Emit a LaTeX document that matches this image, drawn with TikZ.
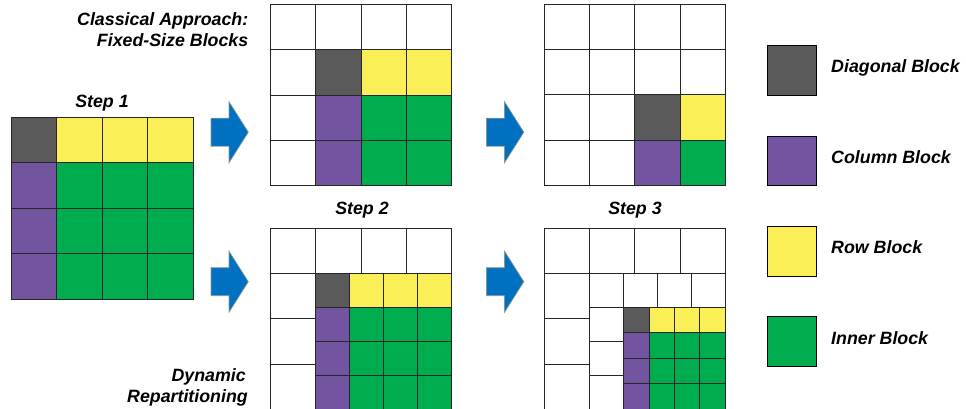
\documentclass[tikz,border=0pt]{standalone}
\usepackage{fontspec}
\setmainfont{Liberation Sans}
\definecolor{diagc}{HTML}{5A5A5A}
\definecolor{colc}{HTML}{7254A0}
\definecolor{rowc}{HTML}{FBEF58}
\definecolor{innc}{HTML}{00AD4E}
\definecolor{arrowc}{HTML}{0070C0}
\definecolor{arrowedge}{HTML}{8C9690}

% W = white cell, D = diagonal, C = column, R = row, I = inner
\colorlet{W}{white}
\colorlet{D}{diagc}
\colorlet{C}{colc}
\colorlet{R}{rowc}
\colorlet{I}{innc}

\tikzset{
  cell/.style={draw=black!85, line width=0.9pt},
  lbl/.style={font=\fontsize{17.8}{21}\selectfont\bfseries\itshape, inner sep=0pt},
  keybox/.style={draw=black, line width=1pt, minimum size=49.5pt, inner sep=0pt, anchor=north west},
  stepArrow/.style={fill=arrowc, draw=arrowedge, line width=0.7pt, line join=miter}
}

% 4x4 block grid: #1,#2 top-left corner, #3 cell size, #4 row-major colours
\newcommand\blockgrid[4]{%
  \foreach \colr [count=\i from 0] in {#4} {
    \pgfmathtruncatemacro\cc{mod(\i,4)}
    \pgfmathtruncatemacro\rr{div(\i,4)}
    \path[cell,fill=\colr] ({#1+\cc*#3},{#2+\rr*#3}) rectangle ++(#3,#3);
  }%
}

% block arrow: #1 left end of the shaft, #2 vertical centre
\newcommand\blockarrow[2]{%
  \path[stepArrow] (#1,#2-14) -- ++(18,0) -- ++(0,-16.5) -- (#1+37.3,#2)
    -- (#1+18,#2+30.5) -- ++(0,-16.5) -- (#1,#2+14) -- cycle;
}

\begin{document}
\begin{tikzpicture}[x=1pt,y=-1pt]
\useasboundingbox (0,0) rectangle (966,408);
\clip (0,0) rectangle (966,408);

% Step 1
\blockgrid{11}{117}{45.5}{D,R,R,R, C,I,I,I, C,I,I,I, C,I,I,I}

% Classical approach, steps 2 and 3
\blockgrid{270.3}{4.3}{45.35}{W,W,W,W, W,D,R,R, W,C,I,I, W,C,I,I}
\blockgrid{544.3}{4.3}{45.25}{W,W,W,W, W,W,W,W, W,W,D,R, W,W,C,I}

% Dynamic repartitioning, step 2 (runs past the lower edge)
\blockgrid{270.3}{228.2}{45.35}{W,W,W,W, W,W,W,W, W,W,W,W, W,W,W,W}
\blockgrid{315.65}{273.55}{34.0}{D,R,R,R, C,I,I,I, C,I,I,I, C,I,I,I}

% Dynamic repartitioning, step 3 (runs past the lower edge)
\blockgrid{544.3}{228.2}{45.25}{W,W,W,W, W,W,W,W, W,W,W,W, W,W,W,W}
\blockgrid{589.55}{273.45}{33.95}{W,W,W,W, W,W,W,W, W,W,W,W, W,W,W,W}
\blockgrid{623.5}{307.4}{25.45}{D,R,R,R, C,I,I,I, C,I,I,I, C,I,I,I}

% arrows between steps
\blockarrow{211}{132.2}
\blockarrow{486.5}{132.2}
\blockarrow{211}{281.7}
\blockarrow{486.5}{281.7}

% titles
\node[lbl, anchor=base east] (classA) at (248.5,25) {Classical Approach:};
\node[lbl, anchor=base east] (classB) at (248.5,46.7) {Fixed-Size Blocks};
\node[lbl, anchor=base east] (dynA) at (246,381) {Dynamic};
\node[lbl, anchor=base east] (dynB) at (248,402) {Repartitioning};
\node[lbl, anchor=base] (step1) at (102,107) {Step 1};
\node[lbl, anchor=base] (step2) at (362,214) {Step 2};
\node[lbl, anchor=base] (step3) at (635,214) {Step 3};

% legend
\node[keybox, fill=diagc] (keyD) at (766.7,45.3) {};
\node[keybox, fill=colc]  (keyC) at (766.7,135.8) {};
\node[keybox, fill=rowc]  (keyR) at (766.7,226) {};
\node[keybox, fill=innc]  (keyI) at (766.7,316) {};
\node[lbl, anchor=base west] (txtD) at (831,72.7) {Diagonal Block};
\node[lbl, anchor=base west] (txtC) at (831,163.3) {Column Block};
\node[lbl, anchor=base west] (txtR) at (831,253.3) {Row Block};
\node[lbl, anchor=base west] (txtI) at (831,344.3) {Inner Block};
\end{tikzpicture}
\end{document}
